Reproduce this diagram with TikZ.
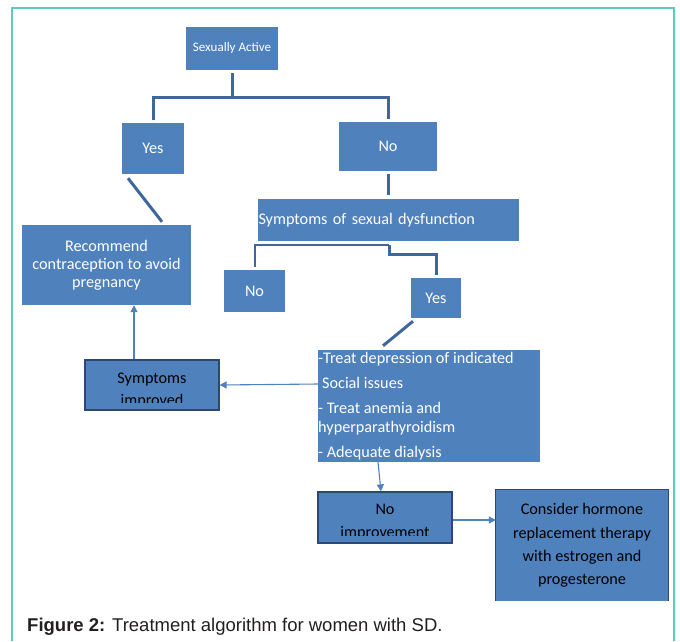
\documentclass[tikz,border=0pt]{standalone}
\usepackage{fontspec}
\setmainfont{Carlito}
\newfontfamily\capfont{Liberation Sans}
\usetikzlibrary{positioning, arrows.meta}

\definecolor{boxblue}{RGB}{79,129,189}
\definecolor{linkblue}{RGB}{62,104,155}
\definecolor{edgeblue}{RGB}{44,72,112}
\definecolor{framegreen}{RGB}{92,204,188}
\definecolor{capgray}{RGB}{35,31,32}

\tikzset{
    box/.style={rectangle, fill=boxblue, text=white, inner sep=2pt,
        font=\fontsize{16.2}{18}\selectfont},
    outlined/.style={box, draw=edgeblue, line width=1.2pt},
    trunk/.style={draw=linkblue, line width=3pt},
    link/.style={draw=boxblue, line width=1.1pt, -{Triangle[length=7pt, width=7pt]}},
}

\begin{document}
\begin{tikzpicture}[x=1pt, y=-1pt]
    \useasboundingbox (0,0) rectangle (680,641);
    \fill[white] (0,0) rectangle (680,641);
    \draw[framegreen, line width=1.5pt] (12,641) -- (12,8) -- (674,8) -- (674,641);

    % QUESTIONS
    \node[box, minimum width=92pt, minimum height=43pt,
        font=\fontsize{13}{15}\selectfont] (sa) at (232,48.5) {Sexually Active};
    \node[box, minimum width=62pt, minimum height=51pt] (yesA) at (153,148.5) {Yes};
    \node[box, minimum width=98pt, minimum height=49pt] (noA) at (388,146.5) {No};
    \node[box, minimum width=261pt, minimum height=42pt, text width=260pt,
        inner xsep=0.5pt, align=left] (sym) at (388.5,220) {Symptoms of sexual dysfunction};
    \node[box, minimum width=61pt, minimum height=42pt] (noB) at (254.5,291) {No};
    \node[box, minimum width=50pt, minimum height=40pt] (yesB) at (436,298) {Yes};

    % ACTIONS
    \node[box, minimum width=169pt, minimum height=80pt, align=center] (rec) at (106.5,265)
        {Recommend\\contraception to avoid\\pregnancy};
    \node[box, minimum width=222pt, minimum height=112pt] (treat) at (429,406) {};
    \node[text=white, anchor=north west, inner sep=0pt, align=left,
        font=\fontsize{16.2}{19}\selectfont] (treattxt) at (318,352)
        {-Treat depression of indicated\\[6pt]
         \hspace*{4pt}Social issues\\[6pt]
         - Treat anemia and\\
         hyperparathyroidism\\[6pt]
         - Adequate dialysis};

    % OUTCOMES
    \node[outlined, minimum width=134pt, minimum height=50pt] (impr) at (152,385) {};
    \begin{scope}
        \clip (85,360) rectangle (219,402);
        \node[text=black, align=center, font=\fontsize{16.2}{22}\selectfont] at (152,391)
            {Symptoms\\improved};
    \end{scope}
    \node[outlined, minimum width=134pt, minimum height=51pt] (noimp) at (385,517.5) {};
    \begin{scope}
        \clip (318,492) rectangle (452,535);
        \node[text=black, align=center, font=\fontsize{16.2}{23}\selectfont] at (385,522)
            {No\\improvement};
    \end{scope}
    \node[box, minimum width=172pt, minimum height=111pt, text=black, align=center,
        font=\fontsize{16.2}{23.3}\selectfont] (hrt) at (582,545.5)
        {Consider hormone\\replacement therapy\\with estrogen and\\progesterone};
    \draw[edgeblue, line width=1.2pt] (hrt.south west) -- (hrt.north west)
        -- (hrt.north east) -- (hrt.south east);

    % CAPTION
    \node[anchor=west, inner sep=0pt, text=capgray,
        font=\capfont\fontsize{18.5}{21}\selectfont] (cap) at (27,627)
        {\textbf{Figure 2:} Treatment algorithm for women with SD.};

    % CONNECTORS
    \coordinate (fork) at (232,97);
    \coordinate (split) at (389,245);
    \draw[trunk] ([yshift=-3pt]sa.south) -- (fork) -| ([yshift=3pt]yesA.north);
    \draw[trunk] (fork) -| ([yshift=3pt]noA.north);
    \draw[trunk] ([yshift=-3pt]noA.south) -- ([yshift=4pt]noA.south |- sym.north);
    \draw[trunk] ([xshift=-25pt, yshift=-4pt]yesA.south) -- ([xshift=55.5pt, yshift=3pt]rec.north);
    \draw[trunk, line width=2pt] (split) -| ([yshift=3pt]noB.north);
    \draw[trunk] (split) -- (389,254) -| ([yshift=3pt]yesB.north);
    \draw[trunk] ([xshift=-23pt, yshift=-3pt]yesB.south) -- ([xshift=-46pt, yshift=4pt]treat.north);

    \draw[link] ([yshift=22pt]treat.west) -- (impr.east);
    \draw[link] ([xshift=-18pt]impr.north) -- ([xshift=-18pt]impr.north |- rec.south);
    \draw[link] ([xshift=-51pt]treat.south) -- ([xshift=-4pt]noimp.north);
    \draw[link] ([yshift=-2.5pt]noimp.east) -- ([yshift=-2.5pt]noimp.east -| hrt.west);
\end{tikzpicture}
\end{document}
